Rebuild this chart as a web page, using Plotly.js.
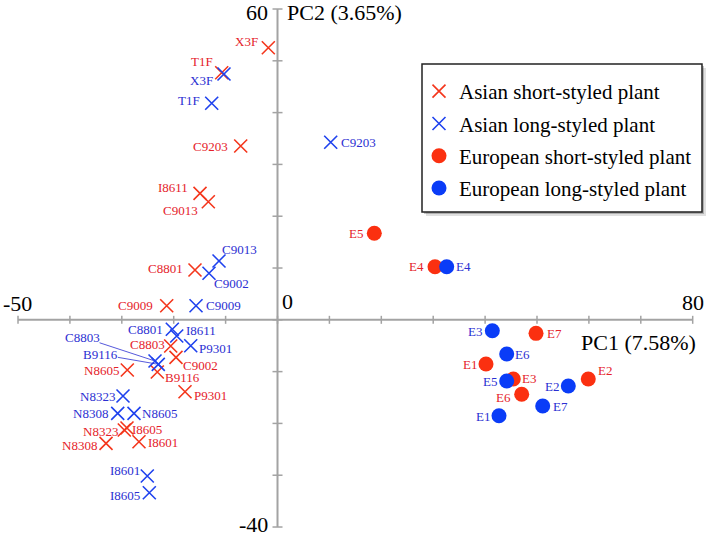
<!DOCTYPE html>
<html>
<head>
<meta charset="utf-8">
<script src="https://cdn.plot.ly/plotly-3.0.1.min.js"></script>
<style>html,body{margin:0;padding:0;background:#fff}#chart{width:709px;height:538px}</style>
</head>
<body>
<div id="chart"></div>
<script>
// ---- Data (PC1, PC2) ----
const asianShortNames = ['X3F','T1F','C9203','I8611','C9013','C8801','C9009','C8803','C9002','N8605','B9116','P9301','N8323','I8605','N8308','I8601'];
const asianShortPC1 = [-1.77,-10.75,-7.09,-14.93,-13.33,-15.90,-21.35,-20.58,-19.56,-28.94,-23.16,-17.82,-29.52,-29.00,-33.04,-26.69];
const asianShortPC2 = [52.53,47.70,33.55,24.42,22.80,9.61,2.72,-5.06,-7.24,-9.69,-10.08,-13.88,-21.27,-20.89,-23.84,-23.53];

const asianLongNames = ['X3F','T1F','C9203','C9013','C9002','C9009','C8801','I8611','P9301','C8803','B9116','N8323','N8308','N8605','I8601','I8605'];
const asianLongPC1 = [-10.31,-12.68,10.25,-11.27,-13.20,-15.70,-20.27,-19.42,-16.72,-23.60,-22.97,-29.77,-30.79,-27.65,-25.09,-24.70];
const asianLongPC2 = [47.45,41.80,34.27,11.35,8.98,2.72,-1.83,-3.13,-5.00,-7.95,-8.59,-14.71,-18.05,-18.05,-30.15,-33.38];

const euroShortNames = ['E5','E4','E7','E1','E3','E2','E6'];
const euroShortPC1 = [18.65,30.35,49.81,40.17,45.43,59.88,47.05];
const euroShortPC2 = [16.70,10.25,-2.61,-8.53,-11.43,-11.43,-14.38];

const euroLongNames = ['E4','E3','E6','E5','E2','E7','E1'];
const euroLongPC1 = [32.60,41.39,44.16,44.16,56.03,51.10,42.68];
const euroLongPC2 = [10.25,-2.10,-6.60,-11.81,-12.78,-16.64,-18.51];

const seriesNames = ['Asian short-styled plant','Asian long-styled plant','European short-styled plant','European long-styled plant'];

const xTicks = [-50,-40,-30,-20,-10,0,10,20,30,40,50,60,70,80];
const yTicks = [-40,-30,-20,-10,0,10,20,30,40,50,60];

// ---- Label placement (side, x-shift px, y-shift px downward); 'A' = leader line ----
const asianShortLbl = [['L',-10,-6],['L',-9,-11],['L',-13,0],['L',-12,-6],['L',-10,9],['L',-12,-2],['L',-14,0],['L',-6,-2],['R',7,8],['L',-8,0],['R',8,5],['R',9,4],['L',-6,1],['R',5,1],['L',-9,2],['R',9,1]];
const asianLongLbl = [['L',-11,6],['L',-12,-3],['R',10,0],['R',3,-12],['R',5,10],['R',10,0],['L',-9,0],['R',9,-6],['R',8,3],['A',-73,-24],['A',-58,-10],['L',-8,0],['L',-10,0],['R',8,0],['L',-7,-5],['L',-9,3]];
const euroShortLbl = [['L',-11,0],['L',-11,0],['R',11,0],['L',-9,0],['R',9,-1],['R',10,-9],['L',-11,3]];
const euroLongLbl = [['R',9,0],['L',-10,1],['R',8,0],['L',-10,1],['L',-9,0],['R',10,0],['L',-9,1]];

const RED = '#f4361c', BLUE = '#1f42ee';
const RED_DOT = '#fb3010', BLUE_DOT = '#0a3cf7';
const RED_TXT = '#e5222a', BLUE_TXT = '#2b2fd2';
const SERIF = 'Liberation Serif, Times New Roman, serif';

const traces = [
  {x: asianShortPC1, y: asianShortPC2, name: seriesNames[0], legendgroup: 'g1', type: 'scatter', mode: 'markers',
   marker: {symbol: 'x-thin', size: 13, color: RED, line: {color: RED, width: 1.6}}},
  {x: asianLongPC1, y: asianLongPC2, name: seriesNames[1], legendgroup: 'g2', type: 'scatter', mode: 'markers',
   marker: {symbol: 'x-thin', size: 13, color: BLUE, line: {color: BLUE, width: 1.6}}},
  {x: euroShortPC1, y: euroShortPC2, name: seriesNames[2], legendgroup: 'g3', type: 'scatter', mode: 'markers',
   marker: {symbol: 'circle', size: 15, color: RED_DOT}},
  {x: euroLongPC1, y: euroLongPC2, name: seriesNames[3], legendgroup: 'g4', type: 'scatter', mode: 'markers',
   marker: {symbol: 'circle', size: 15, color: BLUE_DOT}}
];

const annotations = [];
function addLabels(names, xs, ys, lbl, color) {
  names.forEach((n, i) => {
    const [side, dx, dy] = lbl[i];
    if (side === 'A') {
      annotations.push({x: xs[i], y: ys[i], xref: 'x', yref: 'y', text: n, showarrow: true,
        ax: dx, ay: dy, arrowhead: 0, arrowwidth: 0.8, arrowcolor: color, standoff: 2,
        font: {family: SERIF, size: 13, color: color}, borderpad: 0, borderwidth: 0});
    } else {
      annotations.push({x: xs[i], y: ys[i], xref: 'x', yref: 'y', text: n, showarrow: false,
        xanchor: side === 'L' ? 'right' : 'left', yanchor: 'middle', xshift: dx, yshift: -dy,
        font: {family: SERIF, size: 13, color: color}, borderpad: 0, borderwidth: 0});
    }
  });
}
addLabels(asianShortNames, asianShortPC1, asianShortPC2, asianShortLbl, RED_TXT);
addLabels(asianLongNames, asianLongPC1, asianLongPC2, asianLongLbl, BLUE_TXT);
addLabels(euroShortNames, euroShortPC1, euroShortPC2, euroShortLbl, RED_TXT);
addLabels(euroLongNames, euroLongPC1, euroLongPC2, euroLongLbl, BLUE_TXT);

// axis tick labels and titles
const bigFont = {family: SERIF, size: 22, color: '#000'};
annotations.push({x: xTicks[0], y: 0, text: String(xTicks[0]), showarrow: false, xanchor: 'center', yanchor: 'middle', xshift: -1, yshift: 16, font: bigFont});
annotations.push({x: 0, y: 0, text: '0', showarrow: false, xanchor: 'left', yanchor: 'middle', xshift: 2, yshift: 18, font: bigFont});
annotations.push({x: xTicks[xTicks.length-1], y: 0, text: String(xTicks[xTicks.length-1]), showarrow: false, xanchor: 'center', yanchor: 'middle', yshift: 17, font: bigFont});
annotations.push({x: 0, y: yTicks[yTicks.length-1], text: String(yTicks[yTicks.length-1]), showarrow: false, xanchor: 'right', yanchor: 'middle', xshift: -8, yshift: -3, font: bigFont});
annotations.push({x: 0, y: yTicks[0], text: String(yTicks[0]), showarrow: false, xanchor: 'right', yanchor: 'middle', xshift: -8, yshift: 3, font: bigFont});
annotations.push({x: 0, y: yTicks[yTicks.length-1], text: 'PC2 (3.65%)', showarrow: false, xanchor: 'left', yanchor: 'middle', xshift: 7, yshift: -3, font: bigFont});
annotations.push({x: xTicks[xTicks.length-1], y: 0, text: 'PC1 (7.58%)', showarrow: false, xanchor: 'right', yanchor: 'middle', xshift: 5, yshift: -23, font: bigFont});

// axis lines and ticks as shapes
const AX = '#a3a3a3';
const shapes = [
  {type: 'line', xref: 'x', yref: 'y', x0: xTicks[0], x1: xTicks[xTicks.length-1], y0: 0, y1: 0, line: {color: AX, width: 2}, layer: 'below'},
  {type: 'line', xref: 'x', yref: 'y', x0: 0, x1: 0, y0: yTicks[0], y1: yTicks[yTicks.length-1], line: {color: AX, width: 2}, layer: 'below'}
];
xTicks.forEach(t => shapes.push({type: 'line', xref: 'x', yref: 'y', x0: t, x1: t, ysizemode: 'pixel', yanchor: 0, y0: -4, y1: 4, line: {color: AX, width: 1.5}, layer: 'below'}));
yTicks.forEach(t => shapes.push({type: 'line', xref: 'x', yref: 'y', y0: t, y1: t, xsizemode: 'pixel', xanchor: 0, x0: -5, x1: 5, line: {color: AX, width: 1.5}, layer: 'below'}));
// legend frame with soft drop shadow
shapes.push({type: 'rect', xref: 'paper', yref: 'paper', x0: 426/709, x1: 706/709, y0: 1 - 216/538, y1: 1 - 68/538, fillcolor: 'rgba(0,0,0,0.12)', line: {width: 0}, layer: 'above'});
shapes.push({type: 'rect', xref: 'paper', yref: 'paper', x0: 424/709, x1: 704/709, y0: 1 - 214/538, y1: 1 - 66/538, fillcolor: 'rgba(0,0,0,0.22)', line: {width: 0}, layer: 'above'});
shapes.push({type: 'rect', xref: 'paper', yref: 'paper', x0: 422/709, x1: 702/709, y0: 1 - 212/538, y1: 1 - 64/538, fillcolor: '#fff', line: {color: '#222', width: 1.5}, layer: 'above'});

const layout = {
  width: 709, height: 538, autosize: false,
  margin: {l: 0, r: 0, t: 0, b: 0, pad: 0},
  paper_bgcolor: '#fff', plot_bgcolor: '#fff',
  xaxis: {range: [-53.47, 83.14], visible: false, fixedrange: true},
  yaxis: {range: [-42.12, 61.74], visible: false, fixedrange: true},
  showlegend: true,
  legend: {x: 419/709, y: 1 - 71/538, xanchor: 'left', yanchor: 'top', bgcolor: 'rgba(0,0,0,0)',
    borderwidth: 0, font: {family: SERIF, size: 21, color: '#000'},
    itemsizing: 'trace', traceorder: 'grouped', tracegroupgap: 2},
  annotations: annotations,
  shapes: shapes
};

Plotly.newPlot('chart', traces, layout, {displayModeBar: false, staticPlot: true});
</script>
</body>
</html>
